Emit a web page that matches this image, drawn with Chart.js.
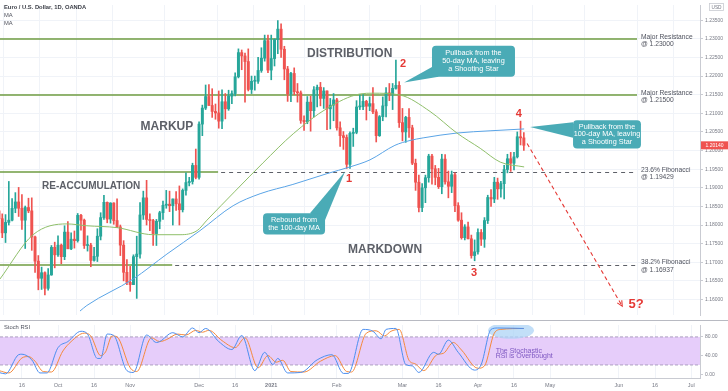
<!DOCTYPE html>
<html>
<head>
<meta charset="utf-8">
<script src="https://cdn.jsdelivr.net/npm/chart.js@4.4.1/dist/chart.umd.min.js"></script>
<style>
  html, body { margin: 0; padding: 0; background: #fff; }
  #wrap { position: relative; width: 728px; height: 391px; overflow: hidden; }
  #main { position: absolute; left: 0; top: 0; }
  #stoch { position: absolute; left: 0; top: 320px; }
</style>
</head>
<body>
<div id="wrap">
  <canvas id="main" width="728" height="320"></canvas>
  <canvas id="stoch" width="728" height="71"></canvas>
</div>
<script>
// ─── DATA ────────────────────────────────────────────
const HOLIDAYS = ['2020-12-25', '2021-01-01'];

// daily candles from 2020-09-07, [open, high, low, close]
const ohlc = [
  // Sep
  [1.1838,1.1846,1.1811,1.1817],[1.1817,1.1830,1.1766,1.1779],[1.1779,1.1828,1.1753,1.1807],
  [1.1807,1.1917,1.1800,1.1813],[1.1813,1.1871,1.1811,1.1845],[1.1845,1.1887,1.1833,1.1862],
  [1.1862,1.1901,1.1823,1.1845],[1.1845,1.1882,1.1788,1.1813],[1.1813,1.1851,1.1737,1.1847],
  [1.1847,1.1872,1.1833,1.1838],[1.1838,1.1873,1.1732,1.1768],[1.1768,1.1770,1.1673,1.1703],
  [1.1703,1.1718,1.1626,1.1657],[1.1657,1.1687,1.1627,1.1672],[1.1672,1.1674,1.1612,1.1630],
  [1.1630,1.1683,1.1625,1.1666],[1.1666,1.1745,1.1665,1.1740],[1.1740,1.1754,1.1685,1.1720],
  // Oct
  [1.1720,1.1771,1.1716,1.1746],[1.1746,1.1749,1.1696,1.1715],[1.1715,1.1798,1.1707,1.1781],
  [1.1781,1.1809,1.1737,1.1736],[1.1736,1.1779,1.1734,1.1762],[1.1762,1.1784,1.1738,1.1758],
  [1.1758,1.1831,1.1754,1.1826],[1.1826,1.1829,1.1786,1.1813],[1.1813,1.1816,1.1737,1.1745],
  [1.1745,1.1771,1.1730,1.1746],[1.1746,1.1751,1.1688,1.1705],[1.1705,1.1740,1.1703,1.1716],
  [1.1716,1.1790,1.1702,1.1770],[1.1770,1.1833,1.1760,1.1820],[1.1820,1.1880,1.1815,1.1861],
  [1.1861,1.1862,1.1806,1.1816],[1.1816,1.1860,1.1805,1.1859],[1.1859,1.1860,1.1802,1.1812],
  [1.1812,1.1870,1.1793,1.1795],[1.1795,1.1800,1.1718,1.1746],[1.1746,1.1758,1.1650,1.1673],
  [1.1673,1.1707,1.1640,1.1646],
  // Nov
  [1.1646,1.1689,1.1622,1.1640],[1.1640,1.1720,1.1640,1.1715],[1.1715,1.1770,1.1603,1.1722],
  [1.1722,1.1860,1.1711,1.1827],[1.1827,1.1891,1.1815,1.1873],[1.1873,1.1920,1.1800,1.1815],
  [1.1815,1.1830,1.1785,1.1812],[1.1812,1.1815,1.1745,1.1777],[1.1777,1.1815,1.1745,1.1810],
  [1.1810,1.1837,1.1790,1.1833],[1.1833,1.1864,1.1815,1.1853],[1.1853,1.1893,1.1845,1.1856],
  [1.1856,1.1891,1.1836,1.1852],[1.1852,1.1870,1.1800,1.1870],[1.1870,1.1890,1.1839,1.1857],
  [1.1857,1.1905,1.1800,1.1841],[1.1841,1.1897,1.1835,1.1893],[1.1893,1.1940,1.1880,1.1914],
  [1.1914,1.1928,1.1905,1.1917],[1.1917,1.1966,1.1910,1.1960],[1.1960,1.2004,1.1924,1.1928],
  // Dec
  [1.1928,1.2077,1.1923,1.2071],[1.2071,1.2122,1.2040,1.2114],[1.2114,1.2176,1.2110,1.2145],
  [1.2145,1.2177,1.2121,1.2121],[1.2121,1.2166,1.2089,1.2105],[1.2105,1.2125,1.2084,1.2101],
  [1.2101,1.2160,1.2060,1.2079],[1.2079,1.2163,1.2059,1.2131],[1.2131,1.2153,1.2085,1.2112],
  [1.2112,1.2162,1.2108,1.2146],[1.2146,1.2160,1.2126,1.2153],[1.2153,1.2209,1.2147,1.2198],
  [1.2198,1.2273,1.2195,1.2263],[1.2263,1.2270,1.2217,1.2254],[1.2254,1.2262,1.2130,1.2239],
  [1.2239,1.2273,1.2160,1.2164],[1.2164,1.2200,1.2153,1.2186],[1.2186,1.2200,1.2162,1.2186],
  [1.2186,1.2250,1.2180,1.2215],[1.2215,1.2276,1.2210,1.2248],[1.2248,1.2310,1.2240,1.2295],
  [1.2295,1.2310,1.2209,1.2216],
  // Jan
  [1.2216,1.2310,1.2190,1.2247],[1.2247,1.2300,1.2227,1.2298],[1.2298,1.2349,1.2260,1.2326],
  [1.2326,1.2340,1.2250,1.2272],[1.2272,1.2280,1.2190,1.2219],[1.2219,1.2226,1.2132,1.2152],
  [1.2152,1.2210,1.2131,1.2207],[1.2207,1.2222,1.2150,1.2158],[1.2158,1.2180,1.2130,1.2155],
  [1.2155,1.2160,1.2073,1.2081],[1.2081,1.2093,1.2054,1.2077],[1.2077,1.2145,1.2072,1.2130],
  [1.2130,1.2146,1.2052,1.2107],[1.2107,1.2172,1.2090,1.2163],[1.2163,1.2176,1.2117,1.2170],
  [1.2170,1.2183,1.2120,1.2140],[1.2140,1.2169,1.2113,1.2160],[1.2160,1.2160,1.2056,1.2112],
  [1.2112,1.2140,1.2058,1.2122],[1.2122,1.2153,1.2080,1.2136],
  // Feb
  [1.2136,1.2140,1.2055,1.2061],[1.2061,1.2077,1.2011,1.2040],[1.2040,1.2051,1.2003,1.2035],
  [1.2035,1.2042,1.1952,1.1963],[1.1963,1.2050,1.1952,1.2046],[1.2046,1.2060,1.2011,1.2049],
  [1.2049,1.2134,1.2045,1.2117],[1.2117,1.2150,1.2110,1.2118],[1.2118,1.2150,1.2110,1.2132],
  [1.2132,1.2135,1.2082,1.2119],[1.2119,1.2144,1.2107,1.2126],[1.2126,1.2169,1.2099,1.2104],
  [1.2104,1.2110,1.2023,1.2040],[1.2040,1.2094,1.2038,1.2091],[1.2091,1.2144,1.2080,1.2120],
  [1.2120,1.2169,1.2090,1.2155],[1.2155,1.2180,1.2134,1.2151],[1.2151,1.2180,1.2110,1.2167],
  [1.2167,1.2243,1.2165,1.2175],[1.2175,1.2185,1.2062,1.2075],
  // Mar
  [1.2075,1.2113,1.2026,1.2050],[1.2050,1.2092,1.2022,1.2089],[1.2089,1.2113,1.2035,1.2061],
  [1.2061,1.2068,1.1962,1.1966],[1.1966,1.1977,1.1893,1.1915],[1.1915,1.1934,1.1835,1.1847],
  [1.1847,1.1911,1.1836,1.1900],[1.1900,1.1934,1.1860,1.1927],[1.1927,1.1990,1.1915,1.1985],
  [1.1985,1.1990,1.1910,1.1951],[1.1951,1.1960,1.1908,1.1928],[1.1928,1.1952,1.1898,1.1903],
  [1.1903,1.1990,1.1884,1.1977],[1.1977,1.1989,1.1910,1.1916],[1.1916,1.1945,1.1873,1.1904],
  [1.1904,1.1945,1.1887,1.1935],[1.1935,1.1940,1.1836,1.1852],[1.1852,1.1860,1.1810,1.1813],
  [1.1813,1.1833,1.1762,1.1766],[1.1766,1.1801,1.1760,1.1795],[1.1795,1.1808,1.1763,1.1763],
  [1.1763,1.1773,1.1711,1.1718],[1.1718,1.1760,1.1704,1.1728],
  // Apr
  [1.1728,1.1790,1.1722,1.1780],[1.1780,1.1788,1.1745,1.1762],[1.1762,1.1820,1.1740,1.1812],
  [1.1812,1.1880,1.1804,1.1874],[1.1874,1.1895,1.1850,1.1870],[1.1870,1.1928,1.1860,1.1915],
  [1.1915,1.1926,1.1869,1.1897],[1.1897,1.1917,1.1875,1.1911],[1.1911,1.1960,1.1870,1.1949],
  [1.1949,1.1990,1.1940,1.1978],[1.1978,1.1995,1.1944,1.1966],[1.1966,1.1995,1.1948,1.1983],
  [1.1983,1.2050,1.1980,1.2037],[1.2037,1.2079,1.2015,1.2034],[1.2034,1.2048,1.2000,1.2014]
];

// moving averages: [bar index, price]
const ma50 = [
  [0.3,1.1655],[10.4,1.1774],[20.7,1.1803],[26.8,1.1798],[36,1.1793],[47,1.1774],[55.2,1.1774],
  [60.4,1.1785],[63.4,1.1813],[72,1.1891],[80.5,1.1967],[89.7,1.2045],[100,1.2113],[110.1,1.2152],
  [114,1.2154],[122.3,1.2149],[131.4,1.2105],[139.6,1.2047],[146.7,1.2006],[152.8,1.1969],[160.1,1.1956]
];
const ma100 = [
  [24.7,1.1569],[26.8,1.1584],[40.9,1.1655],[51.2,1.1722],[61.3,1.1785],[71.4,1.1852],[79.6,1.1884],
  [89.6,1.1909],[100,1.1938],[107,1.1956],[113.1,1.1975],[120.7,1.2014],[125.3,1.2027],[129.3,1.2034],
  [139.6,1.2047],[149.7,1.2053],[160.1,1.2058]
];

// stochastic RSI: [bar index, value]
const stochK = [
  [0,4],[2,1],[6,42],[7,43],[10,31],[12.5,3],[14.6,3],[18,57],[21,70],[25,92],[27,86],[30,34],[31,34],
  [33,86],[35,83],[39,8],[41,4],[45,84],[48,68],[49,70],[53,89],[56,80],[59,99],[61,89],[63,98],[67,70],
  [71,53],[74,83],[78,8],[81,47],[83.5,21],[85,34],[88,3],[92,4],[97,31],[101.5,42],[105,2],[106.5,2],
  [111,96],[114,92],[116.5,76],[118,96],[121,98],[124,21],[126,18],[128,4],[132.5,47],[134,43],[137,73],
  [140,47],[145,9],[147,21],[150,96],[152,99],[160,98]
];
const stochD = [
  [0,8],[3,3],[7,35],[9,38],[11,28],[13.5,6],[16,5],[19.5,50],[22,70],[26,88],[28,82],[31,40],[32.5,48],
  [34.5,82],[36,80],[40,14],[42,6],[46.5,78],[49,70],[51,74],[54.5,86],[57,84],[60,94],[62,90],[64,94],
  [68,72],[72,57],[75,78],[79,14],[82,40],[84.5,26],[86.5,30],[89,6],[93,5],[98,28],[102.5,40],[106,6],
  [107.5,5],[112,88],[115,93],[117.5,82],[119.5,92],[122,96],[125,30],[127,22],[129.5,8],[133.5,42],
  [135.5,45],[138.5,68],[141,52],[146,13],[148,18],[151,88],[153,96],[160,98]
];

const tickDates = ['2020-09-16','2020-10-01','2020-10-16','2020-11-02','2020-12-01','2020-12-16',
  '2021-01-04','2021-02-01','2021-03-01','2021-03-16','2021-04-01','2021-04-16','2021-05-03',
  '2021-06-01','2021-06-16','2021-07-01'];
const tickLabels = ['16','Oct','16','Nov','Dec','16','2021','Feb','Mar','16','Apr','16','May','Jun','16','Jul'];
const priceTicks = [1.160,1.165,1.170,1.175,1.180,1.185,1.190,1.195,1.200,1.205,1.210,1.215,1.220,1.225,1.230,1.235];
const stochTicks = [0, 40, 80];

const levels = [1.23000, 1.21500, 1.19429, 1.16937];
const levelNames = ['Major Resistance', 'Major Resistance', '23.6% Fibonacci', '38.2% Fibonacci'];
const lastPrice = 1.20140;

// ─── STYLE ───────────────────────────────────────────
const FONT = '"Liberation Sans", Arial, sans-serif';
const UP = '#26a69a', DOWN = '#ef5350';
const GRID = '#f0f3f8', AXIS = '#c9cbd2', TICK = '#787b86';
const LEVEL = '#6f9c42', TEAL = '#4aabb6', RED = '#e53935';
const X_MIN = 0.317, X_MAX = 213.7;

// ─── HELPERS ─────────────────────────────────────────
function buildDays(from, to) {
  const out = [];
  const d = new Date(from + 'T00:00:00Z');
  const end = new Date(to + 'T00:00:00Z');
  while (d <= end) {
    const s = d.toISOString().slice(0, 10);
    const wd = d.getUTCDay();
    if (wd !== 0 && wd !== 6 && !HOLIDAYS.includes(s)) out.push(s);
    d.setUTCDate(d.getUTCDate() + 1);
  }
  return out;
}
const days = buildDays('2020-09-07', '2021-07-20');
const tickIdx = tickDates.map(t => days.indexOf(t));
const candleCol = ohlc.map(c => c[3] >= c[0] ? UP : DOWN);

function text(ctx, s, x, y, font, color, align) {
  ctx.font = font;
  ctx.fillStyle = color;
  ctx.textAlign = align || 'center';
  ctx.textBaseline = 'middle';
  ctx.fillText(s, x, y);
}

const xScale = (labels) => ({
  type: 'linear', min: X_MIN, max: X_MAX, offset: false,
  afterBuildTicks: s => { s.ticks = tickIdx.map(v => ({ value: v })); },
  afterFit: s => { s.height = labels ? 13 : 0; },
  grid: { color: GRID, drawTicks: false },
  border: { display: labels, color: AXIS },
  ticks: {
    display: labels, autoSkip: false, maxRotation: 0, padding: 4, color: TICK,
    font: c => ({ family: FONT, size: 5.5, weight: tickLabels[c.index] === '2021' ? 'bold' : 'normal' }),
    callback: (v, i) => tickLabels[i]
  }
});

// ─── MAIN PANEL DECOR ────────────────────────────────
const phases = [
  { t: 'DISTRIBUTION', x: 106.9, y: 1.2261, size: 12 },
  { t: 'MARKUP', x: 51.2, y: 1.2063, size: 12 },
  { t: 'RE-ACCUMULATION', x: 28.1, y: 1.1904, size: 10 },
  { t: 'MARKDOWN', x: 117.7, y: 1.1733, size: 12 }
];
const waves = [
  { t: '1', x: 106.7, y: 1.1923, size: 11 },
  { t: '2', x: 123.2, y: 1.2232, size: 11 },
  { t: '3', x: 144.8, y: 1.1670, size: 11 },
  { t: '4', x: 158.5, y: 1.2099, size: 11 },
  { t: '5?', x: 194.2, y: 1.1587, size: 13 }
];
const callouts = [
  { box: [132.0, 1.22815, 157.3, 1.21983], tip: [123.5, 1.21827], base: [[132.0, 1.22243], [134.0, 1.21983]],
    lines: ['Pullback from the', '50-day MA, leaving', 'a Shooting Star'] },
  { box: [80.5, 1.18315, 99.4, 1.17743], tip: [105.5, 1.19434], base: [[94.8, 1.18315], [99.4, 1.18133]],
    lines: ['Rebound from', 'the 100-day MA'] },
  { box: [175.0, 1.20812, 195.7, 1.20058], tip: [161.9, 1.20630], base: [[175.0, 1.20760], [175.0, 1.20344]],
    lines: ['Pullback from the', '100-day MA, leaving', 'a Shooting Star'] }
];
const projection = [[161.0, 1.2019], [190.0, 1.1582]];
const solidEnd = [194.5, 194.5, 66.8, 52.8];
const LINE_END = 194.5, LABEL_X = 195.7;

const mainDecor = {
  id: 'mainDecor',
  beforeDatasetsDraw(ch) {
    const { ctx, chartArea: a, scales: { x, y } } = ch;
    ctx.save();
    ctx.beginPath(); ctx.rect(a.left, a.top, a.width, a.height); ctx.clip();
    levels.forEach((lv, i) => {
      const py = Math.round(y.getPixelForValue(lv));
      ctx.strokeStyle = LEVEL; ctx.lineWidth = 1.5; ctx.setLineDash([]);
      ctx.beginPath(); ctx.moveTo(a.left, py); ctx.lineTo(x.getPixelForValue(solidEnd[i]), py); ctx.stroke();
      if (solidEnd[i] < LINE_END) {
        ctx.strokeStyle = '#5d6068'; ctx.lineWidth = 1; ctx.setLineDash([4, 4]);
        ctx.beginPath(); ctx.moveTo(x.getPixelForValue(solidEnd[i]) + 3, py + 0.5); ctx.lineTo(x.getPixelForValue(LINE_END), py + 0.5); ctx.stroke();
      }
    });
    ctx.setLineDash([]);
    phases.forEach(p => text(ctx, p.t, x.getPixelForValue(p.x), y.getPixelForValue(p.y), `bold ${p.size}px ${FONT}`, '#5d6068'));
    ctx.restore();
  },
  afterDatasetsDraw(ch) {
    const { ctx, chartArea: a, scales: { x, y } } = ch;
    const X = v => x.getPixelForValue(v), Y = v => y.getPixelForValue(v);
    ctx.save();
    ctx.beginPath(); ctx.rect(a.left, a.top, a.width, a.height); ctx.clip();

    levels.forEach((lv, i) => {
      const py = Y(lv);
      text(ctx, levelNames[i], X(LABEL_X), py - 2, `6.7px ${FONT}`, '#50535e', 'left');
      text(ctx, '@ ' + lv.toFixed(5), X(LABEL_X), py + 5.5, `6.7px ${FONT}`, '#50535e', 'left');
    });

    // projected move to wave 5
    const [[ix0, iy0], [ix1, iy1]] = projection;
    const x0 = X(ix0), y0 = Y(iy0), x1 = X(ix1), y1 = Y(iy1);
    ctx.strokeStyle = RED; ctx.lineWidth = 1.1; ctx.setLineDash([4, 3]);
    ctx.beginPath(); ctx.moveTo(x0, y0); ctx.lineTo(x1, y1); ctx.stroke();
    ctx.setLineDash([]);
    const ang = Math.atan2(y1 - y0, x1 - x0);
    ctx.beginPath();
    ctx.moveTo(x1 - 6 * Math.cos(ang - 0.45), y1 - 6 * Math.sin(ang - 0.45));
    ctx.lineTo(x1, y1);
    ctx.lineTo(x1 - 6 * Math.cos(ang + 0.45), y1 - 6 * Math.sin(ang + 0.45));
    ctx.stroke();

    waves.forEach(w => text(ctx, w.t, X(w.x), Y(w.y), `bold ${w.size}px ${FONT}`, RED));

    callouts.forEach(c => {
      const bx = X(c.box[0]), by = Y(c.box[1]), bw = X(c.box[2]) - bx, bh = Y(c.box[3]) - by;
      ctx.fillStyle = TEAL;
      ctx.beginPath();
      ctx.moveTo(X(c.tip[0]), Y(c.tip[1]));
      ctx.lineTo(X(c.base[0][0]), Y(c.base[0][1]));
      ctx.lineTo(X(c.base[1][0]), Y(c.base[1][1]));
      ctx.closePath(); ctx.fill();
      ctx.beginPath(); ctx.roundRect(bx, by, bw, bh, 4); ctx.fill();
      const lh = 7.8, top = by + bh / 2 - (c.lines.length - 1) * lh / 2;
      c.lines.forEach((s, i) => text(ctx, s, bx + bw / 2, top + i * lh, `7.3px ${FONT}`, '#fff'));
    });
    ctx.restore();
  },
  afterDraw(ch) {
    const { ctx, chartArea: a, scales: { y } } = ch;
    ctx.save();
    text(ctx, 'Euro / U.S. Dollar, 1D, OANDA', 4, 7, `bold 5.8px ${FONT}`, '#3a3d46', 'left');
    text(ctx, 'MA', 4, 15, `5.8px ${FONT}`, '#50535e', 'left');
    text(ctx, 'MA', 4, 23.5, `5.8px ${FONT}`, '#50535e', 'left');
    // currency box
    ctx.strokeStyle = '#c9cbd2'; ctx.lineWidth = 0.8;
    ctx.strokeRect(709.5, 3.5, 14, 7);
    text(ctx, 'USD', 716.5, 7.2, `4.8px ${FONT}`, '#787b86');
    // last price tag
    const py = y.getPixelForValue(lastPrice);
    ctx.fillStyle = DOWN;
    ctx.fillRect(a.right + 1, py - 4, 27, 8);
    text(ctx, lastPrice.toFixed(5), a.right + 14.5, py + 0.3, `5px ${FONT}`, '#fff');
    ctx.restore();
  }
};

const mainChart = new Chart(document.getElementById('main'), {
  type: 'bar',
  data: {
    datasets: [
      { type: 'line', data: ma50.map(([x, y]) => ({ x, y })), borderColor: '#8fbf6a', borderWidth: 1,
        pointRadius: 0, cubicInterpolationMode: 'monotone', order: 0 },
      { type: 'line', data: ma100.map(([x, y]) => ({ x, y })), borderColor: '#5aa4e6', borderWidth: 1,
        pointRadius: 0, cubicInterpolationMode: 'monotone', order: 0 },
      { data: ohlc.map((c, i) => ({ x: i, y: [c[2], c[1]] })), backgroundColor: candleCol,
        barThickness: 1, grouped: false, order: 2 },
      { data: ohlc.map((c, i) => ({ x: i, y: [c[0], c[3]] })), backgroundColor: candleCol,
        barThickness: 2.3, minBarLength: 1, grouped: false, order: 1 }
    ]
  },
  options: {
    responsive: false, animation: false, events: [],
    layout: { padding: 0 },
    plugins: { legend: { display: false }, tooltip: { enabled: false } },
    scales: {
      x: xScale(false),
      y: {
        position: 'right', min: 1.15584, max: 1.23908,
        afterBuildTicks: s => { s.ticks = priceTicks.map(v => ({ value: v })); },
        afterFit: s => { s.width = 28; },
        grid: { color: GRID, tickColor: AXIS, tickLength: 3 },
        border: { display: true, color: AXIS },
        ticks: { padding: 2, color: TICK, font: { family: FONT, size: 5 }, callback: v => v.toFixed(5) }
      }
    }
  },
  plugins: [mainDecor]
});

// ─── STOCH RSI PANEL ─────────────────────────────────
const stochDecor = {
  id: 'stochDecor',
  beforeDatasetsDraw(ch) {
    const { ctx, chartArea: a, scales: { x, y } } = ch;
    const y80 = y.getPixelForValue(80), y20 = y.getPixelForValue(20);
    ctx.save();
    ctx.beginPath(); ctx.rect(a.left, a.top, a.width, a.height); ctx.clip();
    ctx.fillStyle = '#e6cdfa';
    ctx.fillRect(a.left, y80, a.width, y20 - y80);
    ctx.strokeStyle = '#9a8fb0'; ctx.lineWidth = 0.8; ctx.setLineDash([3, 2]);
    [y80, y20].forEach(py => { ctx.beginPath(); ctx.moveTo(a.left, py); ctx.lineTo(a.right, py); ctx.stroke(); });
    ctx.setLineDash([]);
    // overbought highlight
    ctx.fillStyle = 'rgba(173,212,245,0.75)';
    ctx.beginPath();
    ctx.ellipse(x.getPixelForValue(156.1), y.getPixelForValue(93.7),
      x.getPixelForValue(163.1) - x.getPixelForValue(156.1), y.getPixelForValue(76) - y.getPixelForValue(93.7), 0, 0, Math.PI * 2);
    ctx.fill();
    text(ctx, 'The Stochastic', x.getPixelForValue(151.4), y.getPixelForValue(50), `7px ${FONT}`, '#7e57c2', 'left');
    text(ctx, 'RSI is Overbought', x.getPixelForValue(151.4), y.getPixelForValue(38.4), `7px ${FONT}`, '#7e57c2', 'left');
    ctx.restore();
  },
  afterDraw(ch) {
    const { ctx } = ch;
    ctx.save();
    ctx.strokeStyle = '#b8bac2'; ctx.lineWidth = 1;
    ctx.beginPath(); ctx.moveTo(0, 0.5); ctx.lineTo(728, 0.5); ctx.stroke();
    text(ctx, 'Stoch RSI', 4, 7, `5.8px ${FONT}`, '#50535e', 'left');
    ctx.restore();
  }
};

const stochChart = new Chart(document.getElementById('stoch'), {
  type: 'line',
  data: {
    datasets: [
      { data: stochK.map(([x, y]) => ({ x, y })), borderColor: '#4c8ff0', borderWidth: 1,
        pointRadius: 0, cubicInterpolationMode: 'monotone' },
      { data: stochD.map(([x, y]) => ({ x, y })), borderColor: '#f58a3c', borderWidth: 1,
        pointRadius: 0, cubicInterpolationMode: 'monotone' }
    ]
  },
  options: {
    responsive: false, animation: false, events: [],
    layout: { padding: 0 },
    plugins: { legend: { display: false }, tooltip: { enabled: false } },
    scales: {
      x: xScale(true),
      y: {
        position: 'right', min: -7.8, max: 105.4,
        afterBuildTicks: s => { s.ticks = stochTicks.map(v => ({ value: v })); },
        afterFit: s => { s.width = 28; },
        grid: { drawOnChartArea: false, tickColor: AXIS, tickLength: 3 },
        border: { display: true, color: AXIS },
        ticks: { padding: 2, color: TICK, font: { family: FONT, size: 5 }, callback: v => v.toFixed(2) }
      }
    }
  },
  plugins: [stochDecor]
});
</script>
</body>
</html>
